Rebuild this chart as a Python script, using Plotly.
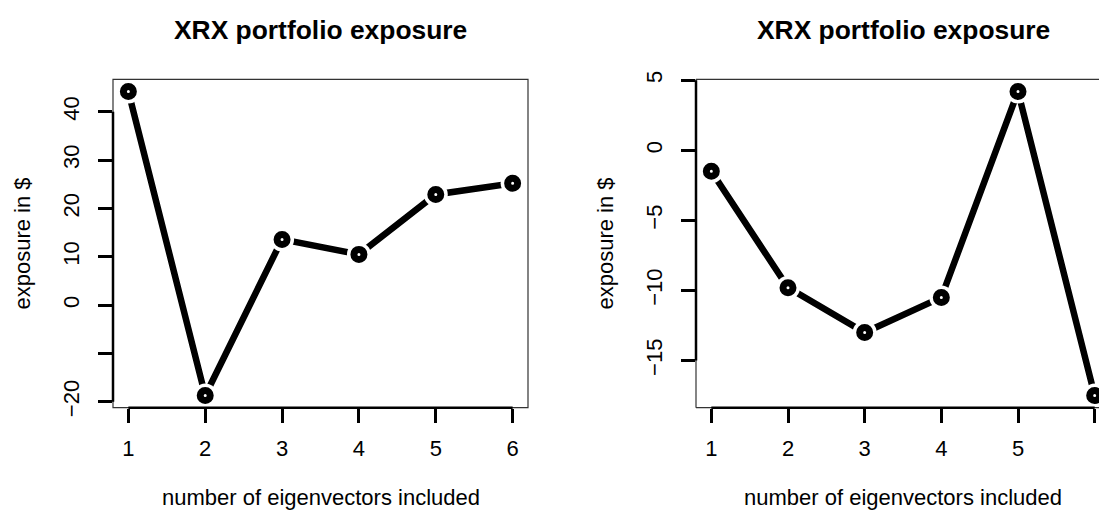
import plotly.graph_objects as go

# number of eigenvectors included in the hedge
n_vectors = [1, 2, 3, 4, 5, 6]

# XRX exposure (in $) for the two hedging schemes
exposure_left = [44.2, -18.7, 13.6, 10.5, 22.9, 25.2]
exposure_right = [-1.5, -9.8, -13.0, -10.5, 4.2, -17.5]

x_ticks = [1, 2, 3, 4, 5, 6]
left_y_ticks = [-20, -10, 0, 10, 20, 30, 40]
left_y_labels = ["\u221220", "", "0", "10", "20", "30", "40"]
right_y_ticks = [-15, -10, -5, 0, 5]
right_y_labels = ["\u221215", "\u221210", "\u22125", "0", "5"]

title_text = "XRX portfolio exposure"
x_title = "number of eigenvectors included"
y_title = "exposure in $"

W, H = 1099, 512
FONT = "Liberation Sans, Arial, Helvetica, sans-serif"
BASE = 22


def padded(vals, frac=0.04):
    lo, hi = min(vals), max(vals)
    d = hi - lo
    return [lo - frac * d, hi + frac * d]


# panel geometry in pixels
top_px, bot_px = 79.3, 407.7
left_px = (113.0, 528.0)
right_px = (696.0, 1110.0)   # right panel runs past the page edge
ydom = [(H - bot_px) / H, (H - top_px) / H]

lx_range = padded(n_vectors)
rx_full = padded(n_vectors)
visible = (W - right_px[0]) / (right_px[1] - right_px[0])
rx_range = [rx_full[0], rx_full[0] + (rx_full[1] - rx_full[0]) * visible]

fig = go.Figure()


def add_series(xs, ys, xa, ya):
    fig.add_trace(go.Scatter(x=xs, y=ys, mode="lines", xaxis=xa, yaxis=ya,
                             line=dict(color="black", width=6.5),
                             hoverinfo="skip", showlegend=False))
    # white halo so the segments stop short of each point
    fig.add_trace(go.Scatter(x=xs, y=ys, mode="markers", xaxis=xa, yaxis=ya,
                             marker=dict(color="white", size=24, line=dict(width=0)),
                             cliponaxis=False, hoverinfo="skip", showlegend=False))
    # thick open circles
    fig.add_trace(go.Scatter(x=xs, y=ys, mode="markers", xaxis=xa, yaxis=ya,
                             marker=dict(symbol="circle", color="white", size=10,
                                         line=dict(color="black", width=7)),
                             cliponaxis=False, showlegend=False))


add_series(n_vectors, exposure_left, "x", "y")
add_series(n_vectors, exposure_right, "x2", "y2")

axis_common = dict(showgrid=False, zeroline=False, showline=False, automargin=False,
                   ticks="outside", ticklen=14, tickwidth=2.5, tickcolor="black",
                   tickfont=dict(family=FONT, size=BASE, color="black"))

fig.update_layout(
    template="none",
    width=W, height=H,
    margin=dict(l=0, r=0, t=0, b=0, pad=0, autoexpand=False),
    paper_bgcolor="white", plot_bgcolor="white",
    showlegend=False,
    xaxis=dict(domain=[left_px[0] / W, left_px[1] / W], range=lx_range,
               tickvals=x_ticks, ticktext=[str(v) for v in x_ticks],
               ticklabelstandoff=7, anchor="y", **axis_common),
    yaxis=dict(domain=ydom, range=padded(exposure_left),
               tickvals=left_y_ticks, ticktext=left_y_labels, tickangle=-90,
               ticklabelstandoff=10, anchor="x", **axis_common),
    xaxis2=dict(domain=[right_px[0] / W, 1.0], range=rx_range,
                tickvals=x_ticks, ticktext=[str(v) for v in x_ticks],
                ticklabelstandoff=7, anchor="y2", **axis_common),
    yaxis2=dict(domain=ydom, range=padded(exposure_right),
                tickvals=right_y_ticks, ticktext=right_y_labels, tickangle=-90,
                ticklabelstandoff=10, anchor="x2", **axis_common),
)

shapes = []
frame = dict(color="#333333", width=1.2)
axis_line = dict(color="black", width=2.5)

# left panel: full box
shapes.append(dict(type="rect", xref="x domain", yref="y domain",
                   x0=0, x1=1, y0=0, y1=1, line=frame, layer="above"))
# right panel: left, top and bottom edges
for (x0, y0, x1, y1) in [(0, 0, 0, 1), (0, 1, 1, 1), (0, 0, 1, 0)]:
    shapes.append(dict(type="line", xref="x2 domain", yref="y2 domain",
                       x0=x0, y0=y0, x1=x1, y1=y1, line=frame, layer="above"))

# axis lines spanning the first to last tick
for xa, ya, yt in [("x", "y", left_y_ticks), ("x2", "y2", right_y_ticks)]:
    shapes.append(dict(type="line", xref=xa, yref=ya + " domain",
                       x0=x_ticks[0], x1=x_ticks[-1], y0=0, y1=0,
                       line=axis_line, layer="above"))
    shapes.append(dict(type="line", xref=xa + " domain", yref=ya,
                       x0=0, x1=0, y0=yt[0], y1=yt[-1],
                       line=axis_line, layer="above"))
fig.update_layout(shapes=shapes)

annotations = []
for (px0, px1) in [left_px, right_px]:
    cx = (px0 + px1) / 2 / W
    annotations.append(dict(text="<b>" + title_text + "</b>", xref="paper", yref="paper",
                            x=cx, y=(H - 30) / H, xanchor="center", yanchor="middle",
                            showarrow=False,
                            font=dict(family=FONT, size=BASE * 1.2, color="black")))
    annotations.append(dict(text=x_title, xref="paper", yref="paper",
                            x=cx, y=(H - 497) / H, xanchor="center", yanchor="middle",
                            showarrow=False,
                            font=dict(family=FONT, size=BASE, color="black")))
    annotations.append(dict(text=y_title, xref="paper", yref="paper",
                            x=(px0 - 91) / W, y=sum(ydom) / 2, xanchor="center",
                            yanchor="middle", textangle=-90, showarrow=False,
                            font=dict(family=FONT, size=BASE, color="black")))
fig.update_layout(annotations=annotations)

fig.write_html("out.html")
